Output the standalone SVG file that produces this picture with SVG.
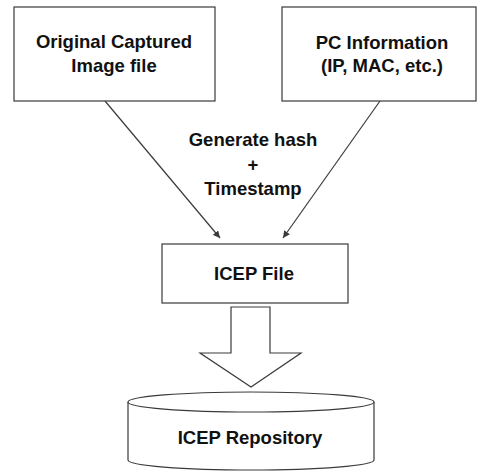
<svg xmlns="http://www.w3.org/2000/svg" width="477" height="471" viewBox="0 0 477 471">
<style>
.box{fill:#fff;stroke:#3a3a3a;stroke-width:1.2}
.t{font-family:"Liberation Sans",Arial,sans-serif;font-weight:bold;font-size:18.5px;fill:#111;text-anchor:middle}
.ln{stroke:#3a3a3a;stroke-width:1.2;fill:none}
</style>
<defs>
<marker id="ah" viewBox="0 0 10 10" refX="10" refY="5" markerWidth="7" markerHeight="7" markerUnits="userSpaceOnUse" orient="auto">
<path d="M0,0 L10,5 L0,10 z" fill="#3a3a3a"/>
</marker>
</defs>
<rect width="477" height="471" fill="#fff"/>
<g id="connectors">
<line class="ln" x1="105" y1="101" x2="220" y2="238" marker-end="url(#ah)"/>
<line class="ln" x1="380" y1="101" x2="283" y2="238" marker-end="url(#ah)"/>
<text class="t" x="253" y="146">Generate hash</text>
<text class="t" x="253" y="171">+</text>
<text class="t" x="253" y="195">Timestamp</text>
<path class="box" d="M231,307 L270,307 L270,353 L301,353 L251,387 L200,353 L231,353 Z"/>
</g>
<g id="original">
<rect class="box" x="14" y="7" width="201" height="94"/>
<text class="t" x="114" y="48">Original Captured</text>
<text class="t" x="114" y="72">Image file</text>
</g>
<g id="pcinfo">
<rect class="box" x="282" y="7" width="194" height="94"/>
<text class="t" x="382" y="49">PC Information</text>
<text class="t" x="382" y="72">(IP, MAC, etc.)</text>
</g>
<g id="icepfile">
<rect class="box" x="162" y="244" width="186" height="59"/>
<text class="t" x="254" y="280">ICEP File</text>
</g>
<g id="repository">
<path class="box" d="M128,402 L128,460 A123,10 0 0 0 374,460 L374,402"/>
<ellipse class="box" cx="251" cy="402" rx="123" ry="10"/>
<text class="t" x="250" y="444">ICEP Repository</text>
</g>
</svg>
